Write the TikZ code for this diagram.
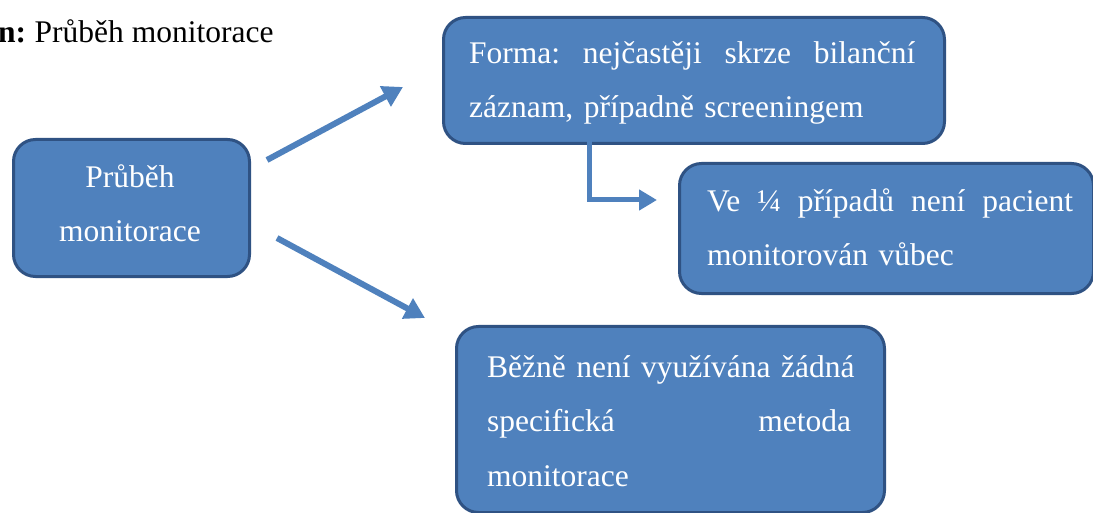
\documentclass[tikz,border=0pt]{standalone}
\usepackage{fontspec}
\setmainfont{Liberation Serif}
\usetikzlibrary{arrows.meta}
\definecolor{boxfill}{HTML}{4F81BD}
\definecolor{boxline}{HTML}{2F5283}
\newcommand{\firstline}{\rule{0pt}{24bp}}
\tikzset{
  card/.style={draw=boxline, line width=3bp, fill=boxfill, rounded corners=22bp,
    anchor=north west, inner sep=0pt},
  cardtext/.style={anchor=north west, inner sep=0pt, text=white,
    font=\fontsize{31.5bp}{54.5bp}\selectfont},
  link/.style={draw=boxfill, line width=6bp, -{Triangle[length=20bp,width=22bp]}},
}
\begin{document}
\begin{tikzpicture}[x=1bp, y=-1bp]
\useasboundingbox (0,0) rectangle (1093,513);

% heading
\node[anchor=base west, inner sep=0pt, font=\fontsize{31.5bp}{38bp}\selectfont]
  (title) at (-2,43) {\textbf{n:}\hspace{-2bp} Průběh monitorace};

% boxes
\node[card, minimum width=236bp, minimum height=137bp] (pm) at (12,138) {};
\node[card, minimum width=501bp, minimum height=126bp] (fa) at (442,16) {};
\node[card, minimum width=414bp, minimum height=130bp] (ve) at (678,162) {};
\node[card, minimum width=428bp, minimum height=186bp] (be) at (455,325) {};

% box texts
\node[cardtext, anchor=north, text width=236bp, align=center] (pmt) at (130,163)
  {\firstline Průběh\\monitorace};
\node[cardtext, text width=446bp, align=left] (fat) at (469,39)
  {\firstline Forma:\hfill nejčastěji\hfill skrze\hfill bilanční\\záznam, případně screeningem};
\node[cardtext, text width=366bp, align=left] (vet) at (707,187)
  {\firstline Ve\hfill ¼\hfill případů\hfill není\hfill pacient\\monitorován vůbec};
\node[cardtext, text width=400bp, align=left] (bet) at (487,353)
  {\firstline Běžně není využívána žádná\\\makebox[364bp][l]{specifická\hfill metoda}\\monitorace};

% connectors
\coordinate (upFrom) at (267,160);
\coordinate (upTo) at (403,87);
\coordinate (downFrom) at (277,238);
\coordinate (downTo) at (425,318);
\coordinate (formaOut) at (589,124);
\coordinate (veIn) at (657,200);

\draw[link] (upFrom) -- (upTo);
\draw[link] (downFrom) -- (downTo);
\draw[link, line width=5bp, -{Triangle[length=18bp,width=20bp]}] (formaOut) |- (veIn);
\end{tikzpicture}
\end{document}
